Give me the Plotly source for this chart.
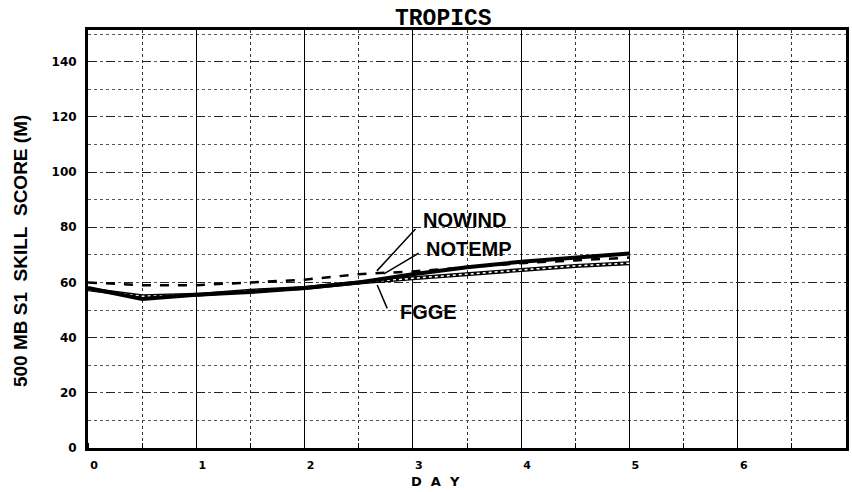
import plotly.graph_objects as go

# ---- data ----
days = [0, 0.5, 1, 1.5, 2, 2.5, 3, 3.5, 4, 4.5, 5]
fgge = [58, 54, 55.5, 56.5, 58, 60, 63, 65.5, 67.5, 69, 70.5]
nowind = [60, 59, 59, 60, 61, 63, 64, 65.5, 67, 68, 69]
notemp = [57.5, 55, 55.5, 57, 58, 60, 61.5, 63, 64.5, 66, 67]

x_ticks = [0, 1, 2, 3, 4, 5, 6]
y_ticks = [0, 20, 40, 60, 80, 100, 120, 140]

# label text, text position, leader start, leader end (data coords)
labels = [
    ("NOWIND", 3.473, 82.6, (3.024, 79.4), (2.668, 64.2)),
    ("NOTEMP", 3.514, 72.1, (3.054, 70.6), (2.732, 63.1)),
    ("FGGE", 3.142, 49.3, (2.763, 50.6), (2.671, 59.1)),
]

fig = go.Figure()

# NOTEMP: hollow (double) line
fig.add_trace(go.Scatter(x=days, y=notemp, mode="lines",
                         line=dict(color="black", width=4), showlegend=False))
fig.add_trace(go.Scatter(x=days, y=notemp, mode="lines",
                         line=dict(color="white", width=1.5, dash="dot"), showlegend=False))
# FGGE: thick solid
fig.add_trace(go.Scatter(x=days, y=fgge, mode="lines",
                         line=dict(color="black", width=4), showlegend=False))
# NOWIND: dashed
fig.add_trace(go.Scatter(x=days, y=nowind, mode="lines",
                         line=dict(color="black", width=2.5, dash="dash"), showlegend=False))

shapes = []
annotations = []
for text, tx, ty, p0, p1 in labels:
    shapes.append(dict(type="line", xref="x", yref="y", x0=p0[0], y0=p0[1],
                       x1=p1[0], y1=p1[1], line=dict(color="black", width=1.5)))
    annotations.append(dict(x=tx, y=ty, xref="x", yref="y", text=text, showarrow=False,
                            font=dict(family="Liberation Sans", size=20, color="black",
                                      weight="bold"),
                            xanchor="center", yanchor="middle"))

annotations.append(dict(x=0.469, y=1, xref="paper", yref="paper", text="TROPICS",
                        showarrow=False, xanchor="center", yanchor="bottom", yshift=-4,
                        font=dict(family="Liberation Mono", size=23, color="black",
                                  weight="bold")))
annotations.append(dict(x=-0.089, y=0.470, xref="paper", yref="paper",
                        text="500 MB S1\u00a0\u00a0SKILL\u00a0\u00a0SCORE (M)", textangle=-90,
                        showarrow=False, xanchor="center", yanchor="middle",
                        font=dict(family="Liberation Sans", size=19, color="black",
                                  weight="bold")))
annotations.append(dict(x=0.459, y=-0.081, xref="paper", yref="paper",
                        text="D\u00a0\u00a0A\u00a0\u00a0Y", showarrow=False,
                        xanchor="center", yanchor="middle",
                        font=dict(family="DejaVu Sans", size=13, color="black",
                                  weight="bold")))

fig.update_layout(
    width=852, height=492,
    margin=dict(l=88, r=3, t=30, b=44),
    paper_bgcolor="white", plot_bgcolor="white",
    shapes=shapes, annotations=annotations,
    font=dict(family="DejaVu Sans", size=12, color="black"),
)
fig.update_xaxes(
    range=[0, 7], tickvals=x_ticks, ticktext=[str(v) for v in x_ticks],
    showgrid=True, gridcolor="black", gridwidth=1.3,
    minor=dict(dtick=0.5, tick0=0, showgrid=True, gridcolor="#333", griddash="dot", gridwidth=1,
               ticks="inside", ticklen=5, tickcolor="black"),
    showline=True, linecolor="black", linewidth=2.5, mirror=True,
    ticks="", zeroline=False, ticklabelshift=6, ticklabelstandoff=5,
    tickfont=dict(family="DejaVu Sans", size=11, color="black", weight="bold"),
)
fig.update_yaxes(
    range=[0, 151.5], tickvals=y_ticks, ticktext=[str(v) for v in y_ticks],
    showgrid=True, gridcolor="#222", griddash="dash", gridwidth=1,
    minor=dict(dtick=10, tick0=0, showgrid=True, gridcolor="#555", griddash="dot", gridwidth=1),
    showline=True, linecolor="black", linewidth=3, mirror=True,
    ticks="", zeroline=False, ticklabelstandoff=6,
    tickfont=dict(family="DejaVu Sans", size=12, color="black", weight="bold"),
)

fig.write_html("out.html")
